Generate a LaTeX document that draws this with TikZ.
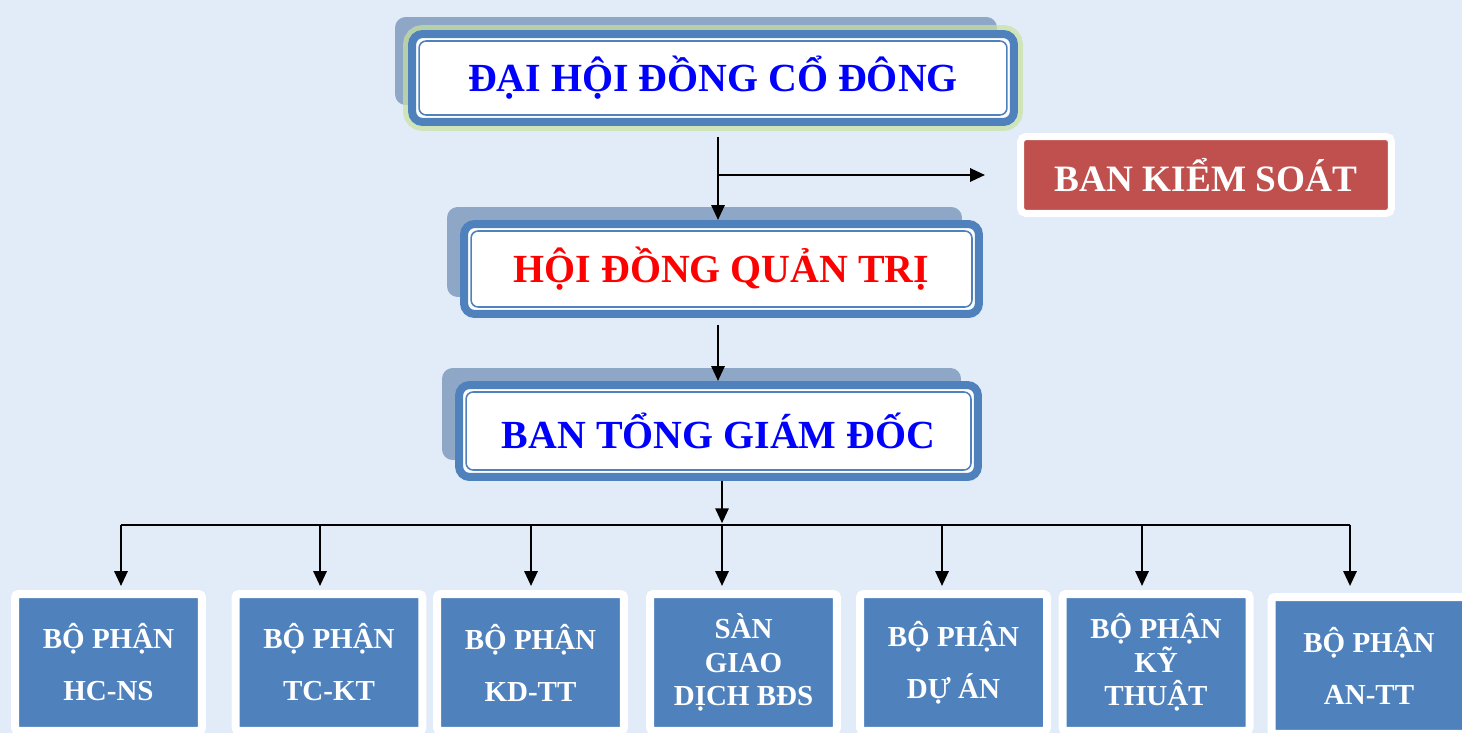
\documentclass[tikz,border=0pt]{standalone}
\usepackage{fontspec}
\setmainfont{Liberation Serif}
\usetikzlibrary{shadows,calc,arrows.meta}

\begin{document}
\begin{tikzpicture}
          [x = 0.02cm, y = -0.02cm,
           every node/.style = {inner sep = 0pt, font = \bfseries},
           council/.style = {draw = boxcolor, line width = 0.16cm, fill = white, rounded corners = 6pt,
                    general shadow = {fill = shadowcolor, shadow xshift = -0.34cm, shadow yshift = 0.34cm},
                    font = \fontsize{22.7}{26}\selectfont\bfseries},
           dept/.style = {draw = white, line width = 0.16cm, fill = boxcolor, rounded corners = 2pt, text = white,
                    minimum width = 3.74cm, minimum height = 2.74cm, align = center,
                    drop shadow = {opacity = 0.15, shadow xshift = 1pt, shadow yshift = -1pt},
                    font = \fontsize{16.5}{19}\selectfont\bfseries},
           arrow/.style = {draw = black, line width = 1.4pt, -{Triangle[length = 8.5pt, width = 7.5pt]}},
           bus/.style = {draw = black, line width = 1.4pt}]

% Define colors
\definecolor{bgcolor}{RGB}{225,236,248}
\definecolor{boxcolor}{RGB}{79,129,189}
\definecolor{shadowcolor}{RGB}{143,167,199}
\definecolor{glowcolor}{RGB}{200,226,158}
\definecolor{kscolor}{RGB}{192,80,77}

\useasboundingbox (0,0) rectangle (1462,733);
\fill [bgcolor] (0,0) rectangle (1462,733);

% Council boxes
  \path node [council, preaction = {draw = glowcolor, line width = 0.36cm, opacity = 0.7},
             minimum width = 12.04cm, minimum height = 1.76cm, text = blue]
             (dhdcd) at (713,78) {ĐẠI HỘI ĐỒNG CỔ ĐÔNG};
  \path node [council, minimum width = 10.3cm, minimum height = 1.8cm, text = red]
             (hdqt) at (721.5,269) {HỘI ĐỒNG QUẢN TRỊ};
  \path node [council, minimum width = 10.38cm, minimum height = 1.84cm, text = blue]
             (btgd) at (718.5,431) {BAN TỔNG GIÁM ĐỐC};

  \foreach \n in {dhdcd,hdqt,btgd}
     \draw [boxcolor, line width = 0.9pt, rounded corners = 4pt]
           ($(\n.north west)+(11,11)$) rectangle ($(\n.south east)+(-11,-11)$);

% Ban kiem soat
  \path node [draw = white, line width = 0.14cm, fill = kscolor, rounded corners = 3pt, text = white,
             drop shadow = {opacity = 0.25, shadow xshift = 1pt, shadow yshift = -1.5pt},
             minimum width = 7.42cm, minimum height = 1.54cm, font = \fontsize{21.2}{24}\selectfont\bfseries]
             (bks) at (1206,175) {BAN KIỂM SOÁT};

% Departments
  \path node [dept] (hcns)    at (108.5,662.5)  {BỘ PHẬN\\[10.6pt]HC-NS}
        node [dept] (tckt)    at (329,662.5)    {BỘ PHẬN\\[10.6pt]TC-KT}
        node [dept] (kdtt)    at (530.5,662.5)  {BỘ PHẬN\\[10.6pt]KD-TT}
        node [dept] (san)     at (743.5,662.5)  {SÀN\\GIAO\\DỊCH BĐS}
        node [dept] (duan)    at (953.5,662.5)  {BỘ PHẬN\\[10.6pt]DỰ ÁN}
        node [dept] (kythuat) at (1156,662.5)   {BỘ PHẬN\\KỸ\\THUẬT}
        node [dept, minimum width = 3.9cm] (antt) at (1369,665.5) {BỘ PHẬN\\[10.6pt]AN-TT};

% making connections
  \coordinate (s1) at ($(dhdcd.south)+(5,11)$);
  \draw [arrow] (s1) -- (s1 |- hdqt.north);
  \draw [arrow] (s1 |- bks.west) -- ($(bks.west)+(-32,0)$);
  \coordinate (s2) at ($(hdqt.south)+(-3.5,7)$);
  \draw [arrow] (s2) -- (s2 |- btgd.north);
  \coordinate (s3) at ($(btgd.south)+(3.5,0)$);
  \coordinate (bus) at ($(s3)+(0,44)$);
  \draw [arrow, shorten > = 1pt] (s3) -- (bus);

  \foreach \b/\x in {hcns/121, tckt/320, kdtt/531, san/722, duan/942, kythuat/1142, antt/1350}
     \coordinate (d-\b) at (\x,525);
  \draw [bus] (d-hcns) -- (d-antt);
  \foreach \b in {hcns, tckt, kdtt, san, duan, kythuat, antt}
     \draw [arrow] (d-\b) -- ($(d-\b |- hcns.north)+(0,-4)$);

\end{tikzpicture}
\end{document}
